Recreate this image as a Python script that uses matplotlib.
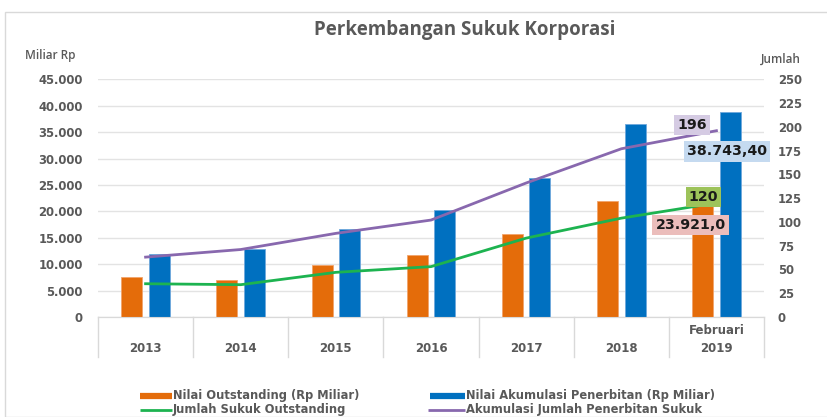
import matplotlib
matplotlib.use("Agg")
import matplotlib.pyplot as plt
from matplotlib.lines import Line2D
from matplotlib.patches import Rectangle
import matplotlib.transforms as mtransforms
import numpy as np

years = ["2013", "2014", "2015", "2016", "2017", "2018", "2019"]
top_labels = ["", "", "", "", "", "", "Februari"]
outstanding = [7520, 7010, 9790, 11740, 15660, 21970, 23921.0]
akumulasi = [11880, 12820, 16610, 20260, 26270, 36500, 38743.40]
jumlah_outstanding = [35, 34, 47, 53, 83, 104, 120]
akumulasi_jumlah = [63, 71, 88, 102, 141, 177, 196]
left_ticks = [0, 5000, 10000, 15000, 20000, 25000, 30000, 35000, 40000, 45000]
left_tick_labels = ["0", "5.000", "10.000", "15.000", "20.000", "25.000",
                    "30.000", "35.000", "40.000", "45.000"]
right_ticks = [0, 25, 50, 75, 100, 125, 150, 175, 200, 225, 250]

C_OR = "#E46C0A"
C_BL = "#0070C0"
C_GR = "#1DB350"
C_PU = "#8868AE"
TXT = "#595959"
GRID = "#E3E3E3"

W, H = 827, 417
fig = plt.figure(figsize=(W / 100, H / 100), dpi=100)
fig.patch.set_facecolor("white")

# outer chart border
fig.add_artist(Rectangle((5 / W, 0), 1.0, 1 - 12 / H, transform=fig.transFigure,
                         fill=False, edgecolor="#D9D9D9", lw=1.0))

x0, x1, yb, yt = 98, 764, 317, 79.4
ax = fig.add_axes([x0 / W, 1 - yb / H, (x1 - x0) / W, (yb - yt) / H])
ax2 = ax.twinx()

x = np.arange(len(years))
bw = 0.22
off = 0.145
ax.bar(x - off, outstanding, bw, color=C_OR, edgecolor="#F2A46B", lw=0.6, zorder=3)
ax.bar(x + off, akumulasi, bw, color=C_BL, edgecolor="#6FA8DC", lw=0.6, zorder=3)

ax.set_xlim(-0.5, len(years) - 0.5)
ax.set_ylim(0, 45000)
ax2.set_ylim(0, 250)
ax.set_yticks(left_ticks)
ax.set_yticklabels(left_tick_labels)
ax2.set_yticks(right_ticks)
ax.yaxis.grid(True, color=GRID, lw=1.0, zorder=0)
ax.set_axisbelow(True)
ax.set_xticks([])
for a in (ax, ax2):
    for s in ("top", "right", "left"):
        a.spines[s].set_visible(False)
    a.spines["bottom"].set_color("#D9D9D9")
    a.tick_params(length=0, colors=TXT, labelsize=8.4)
for lab in ax.get_yticklabels() + ax2.get_yticklabels():
    lab.set_fontweight("bold")
ax.tick_params(axis="y", pad=11)
ax2.tick_params(axis="y", pad=10)

ax2.plot(x, jumlah_outstanding, color=C_GR, lw=2.0, zorder=4)
ax2.plot(x, akumulasi_jumlah, color=C_PU, lw=2.0, zorder=4)

# category axis boxes
trans = mtransforms.blended_transform_factory(ax.transData, ax.transAxes)
depth = -(357 - 317) / (yb - yt)
for b in np.arange(-0.5, len(years), 1.0):
    ax.add_line(Line2D([b, b], [0, depth], transform=trans, color="#D9D9D9",
                       lw=1.0, clip_on=False))
for i, (yr, tl) in enumerate(zip(years, top_labels)):
    ax.text(i, -(348 - 317) / (yb - yt), yr, transform=trans, ha="center",
            va="center", fontsize=8.5, fontweight="bold", color=TXT)
    if tl:
        ax.text(i, -(330 - 317) / (yb - yt), tl, transform=trans, ha="center",
                va="center", fontsize=8.5, fontweight="bold", color=TXT)

# data labels
last = len(years) - 1
lab_kw = dict(textcoords="offset pixels", ha="center", va="center",
              fontsize=10.2, fontweight="bold", color="#1a1a1a", zorder=6,
              annotation_clip=False)
ax2.annotate("196", xy=(last, akumulasi_jumlah[-1]), xytext=(-24, 6),
             bbox=dict(boxstyle="square,pad=0.22", fc="#D5CBE3", ec="none"),
             **lab_kw)
ax.annotate("38.743,40", xy=(last + off, akumulasi[-1]), xytext=(-3, -39),
            bbox=dict(boxstyle="square,pad=0.22", fc="#C5DAF0", ec="none"),
            **lab_kw)
ax2.annotate("120", xy=(last, jumlah_outstanding[-1]), xytext=(-13, 6),
             bbox=dict(boxstyle="square,pad=0.22", fc="#9DC35A", ec="none"),
             **lab_kw)
ax.annotate("23.921,0", xy=(last - off, outstanding[-1]), xytext=(-12, -34),
            bbox=dict(boxstyle="square,pad=0.22", fc="#EBBDBB", ec="none"),
            **lab_kw)
ax2.set_zorder(ax.get_zorder() + 1)
ax.patch.set_visible(False)

# titles
fig.text(465 / W, 1 - 30 / H, "Perkembangan Sukuk Korporasi", ha="center",
         va="center", fontsize=13.5, fontweight="bold", color=TXT,
         family="Open Sans")
fig.text(25 / W, 1 - 55 / H, "Miliar Rp", ha="left", va="center", fontsize=8.5,
         color=TXT, family="Open Sans", fontweight="semibold")
fig.text(761 / W, 1 - 59 / H, "Jumlah", ha="left", va="center", fontsize=8.5,
         color=TXT, family="Open Sans", fontweight="semibold")

# legend
leg = [("Nilai Outstanding (Rp Miliar)", C_OR, 4.5, 140, 172, 396),
       ("Nilai Akumulasi Penerbitan (Rp Miliar)", C_BL, 4.5, 430, 465, 396),
       ("Jumlah Sukuk Outstanding", C_GR, 2.0, 140, 172, 410),
       ("Akumulasi Jumlah Penerbitan Sukuk", C_PU, 2.0, 428, 465, 410)]
for label, col, lw, xa, xb, yy in leg:
    fig.add_artist(Line2D([xa / W, xb / W], [1 - yy / H, 1 - yy / H],
                          transform=fig.transFigure, color=col, lw=lw,
                          solid_capstyle="butt"))
    fig.text((xb + 1) / W, 1 - yy / H, label, ha="left", va="center",
             fontsize=8.3, fontweight="bold", color=TXT)

fig.savefig("out.png", dpi=100)
